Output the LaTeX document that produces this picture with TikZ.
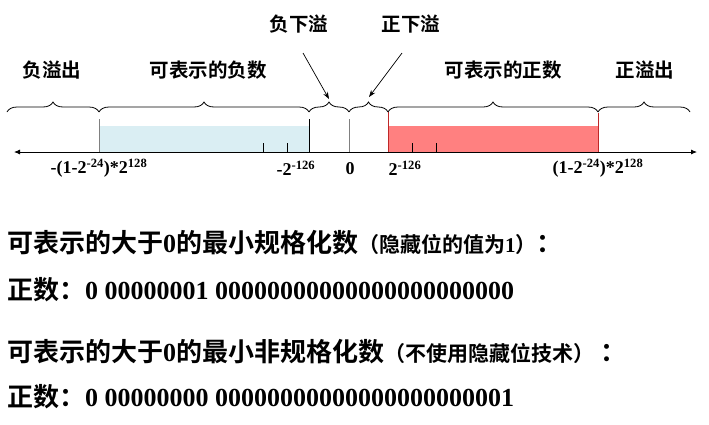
\documentclass[tikz,border=0pt]{standalone}
\usepackage{fontspec}
\setmainfont{Liberation Serif}
\newfontfamily\cjk[BoldFont={Noto Sans CJK SC Bold}]{Noto Sans CJK SC}
\usetikzlibrary{decorations.pathreplacing,arrows.meta,calc}
\definecolor{negfill}{RGB}{218,238,243}
\definecolor{posfill}{RGB}{255,128,128}
\definecolor{posedge}{RGB}{190,40,40}
\newcommand{\zh}[1]{{\cjk\bfseries #1}}
\newcommand{\sm}{\fontsize{21}{24}\selectfont}

\begin{document}
\begin{tikzpicture}[x=1pt,y=-1pt,
	brc/.style={decoration={brace,amplitude=10pt},decorate,line width=0.8pt},
	lbl/.style={inner sep=0pt,font=\fontsize{19.5}{22}\selectfont\bfseries},
	num/.style={inner sep=0pt,font=\fontsize{18}{20}\selectfont\bfseries},
	txt/.style={inner sep=0pt,anchor=west,font=\fontsize{26}{30}\selectfont\bfseries},
	tick/.style={line width=0.8pt},
	ptr/.style={-{Stealth[length=7pt,width=5pt]},line width=0.7pt}]
		\useasboundingbox (0,0) rectangle (709,424);
		
		% ranges
		\fill[negfill] (99,126) rectangle (309,152);
		\fill[posfill] (388,126) rectangle (598,152);
		
		\coordinate (axl) at (14,152);
		\coordinate (axr) at (697,152);
		\draw[{Latex[length=6pt,width=5pt]}-{Latex[length=6pt,width=5pt]},line width=0.8pt] (axl) -- (axr);
		
		\draw[tick,gray] (99,119) -- (99,152);
		\draw[tick] (309,119) -- (309,152);
		\draw[tick,gray] (349,119) -- (349,152);
		\draw[tick,posedge] (388,112) -- (388,152);
		\draw[tick,posedge] (598,113) -- (598,152);
		\draw[tick] (263,143) -- (263,152);
		\draw[tick] (287,143) -- (287,152);
		\draw[tick] (412,143) -- (412,152);
		\draw[tick] (436,143) -- (436,152);
		
		% braces
		\draw[brc] (7,112) -- (99,112);
		\draw[brc] (99,112) -- (309,112);
		\draw[brc] (309,112) -- (349,112);
		\draw[brc] (349,112) -- (388,112);
		\draw[brc] (388,112) -- (598,112);
		\draw[brc] (598,112) -- (690,112);
		\coordinate (tipn) at (329,99);
		\coordinate (tipp) at (369,97);
		
		\node[lbl] (fyc) at (52,70) {\zh{负溢出}};
		\node[lbl] (kfs) at (208,70) {\zh{可表示的负数}};
		\node[lbl] (kzs) at (503,70) {\zh{可表示的正数}};
		\node[lbl] (zyc) at (645,70) {\zh{正溢出}};
		\node[lbl] (fxy) at (299,24) {\zh{负下溢}};
		\node[lbl] (zxy) at (411,24) {\zh{正下溢}};
		\coordinate (fxys) at (303,53);
		\coordinate (zxys) at (402,53);
		\draw[ptr] (fxys) -- (tipn);
		\draw[ptr] (zxys) -- (tipp);
		
		\node[num] (vmin) at (99,168) {-(1-2\textsuperscript{-24})*2\textsuperscript{128}};
		\node[num] (nsm) at (296,168) {-2\textsuperscript{-126}};
		\node[num] (zero) at (350,169) {0};
		\node[num] (psm) at (405,168) {2\textsuperscript{-126}};
		\node[num] (vmax) at (598,168) {(1-2\textsuperscript{-24})*2\textsuperscript{128}};
		
		% text lines
		\node[txt] (l1) at (7,243) {\zh{可表示的大于}0\zh{的最小规格化数}{\sm\zh{（隐藏位的值为}1\zh{）}}\zh{：}};
		\node[txt] (l2) at (7,290) {\zh{正数：}0 00000001 00000000000000000000000};
		\node[txt] (l3) at (7,352) {\zh{可表示的大于}0\zh{的最小非规格化数}{\sm\zh{（不使用隐藏位技术）}}\ \zh{：}};
		\node[txt] (l4) at (7,397) {\zh{正数：}0 00000000 00000000000000000000001};
\end{tikzpicture}
\end{document}
